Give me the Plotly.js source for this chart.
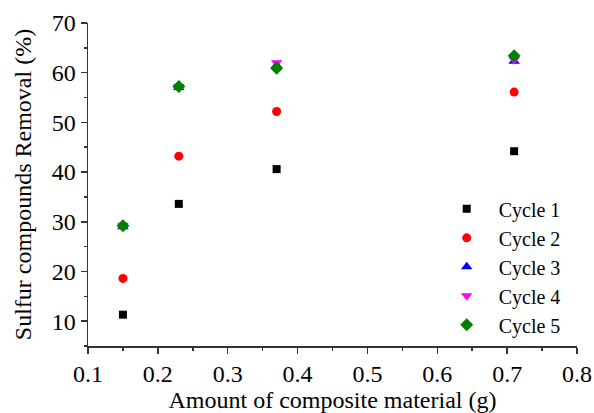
<!DOCTYPE html>
<html>
<head>
<meta charset="utf-8">
<script src="https://cdn.plot.ly/plotly-3.0.1.min.js"></script>
<style>html,body{margin:0;padding:0;background:#fff;}#chart{width:594px;height:413px;}</style>
</head>
<body>
<div id="chart"></div>
<script>
const amounts = [0.15, 0.23, 0.37, 0.71];
const cycleNames = ["Cycle 1", "Cycle 2", "Cycle 3", "Cycle 4", "Cycle 5"];
const cycle1 = [11.3, 33.6, 40.6, 44.2];
const cycle2 = [18.6, 43.2, 52.2, 56.1];
const cycle3 = [29.0, 57.0, 61.5, 62.3];
const cycle4 = [29.3, 57.2, 62.0, 62.6];
const cycle5 = [29.2, 57.2, 60.9, 63.4];

const series = [cycle1, cycle2, cycle3, cycle4, cycle5];
const colors = ["#000000", "#ff0000", "#0000ff", "#ff00ff", "#008000"];
const symbols = ["square", "circle", "triangle-up", "triangle-down", "diamond"];
const sizes = [8, 9, 10, 10, 10];

const traces = series.map((ys, i) => ({
  x: amounts, y: ys, name: cycleNames[i], type: "scatter", mode: "markers",
  marker: {color: colors[i], symbol: symbols[i], size: sizes[i], line: {width: 0}}
}));

const font = {family: "Liberation Serif, Times New Roman, serif", color: "#000"};
const axisCommon = {
  showline: true, linecolor: "#333", linewidth: 1.5, mirror: false,
  ticks: "outside", ticklen: 6, tickwidth: 1.5, tickcolor: "#333",
  showgrid: false, zeroline: false,
  tickfont: Object.assign({size: 24}, font)
};
const layout = {
  width: 594, height: 413,
  margin: {l: 88, r: 17, t: 23, b: 67},
  paper_bgcolor: "#fff", plot_bgcolor: "#fff",
  font: font,
  showlegend: true,
  legend: {x: 0.709, y: 0.485, xanchor: "left", yanchor: "top", bgcolor: "rgba(0,0,0,0)",
    itemwidth: 54, font: Object.assign({size: 20}, font), tracegroupgap: 0},
  xaxis: Object.assign({}, axisCommon, {
    range: [0.1, 0.8], dtick: 0.1, tick0: 0.1,
    minor: {ticks: "outside", ticklen: 3, tickwidth: 1.5, tickcolor: "#333", dtick: 0.05, tick0: 0.1},
    title: {text: "Amount of composite material (g)", font: Object.assign({size: 24}, font), standoff: 0}
  }),
  yaxis: Object.assign({}, axisCommon, {
    range: [5, 70], dtick: 10, tick0: 10,
    minor: {ticks: "outside", ticklen: 3, tickwidth: 1.5, tickcolor: "#333", dtick: 5, tick0: 5},
    title: {text: "Sulfur compounds Removal (%)", font: Object.assign({size: 24}, font), standoff: 13}
  })
};
Plotly.newPlot("chart", traces, layout, {displayModeBar: false, staticPlot: true});
</script>
</body>
</html>
